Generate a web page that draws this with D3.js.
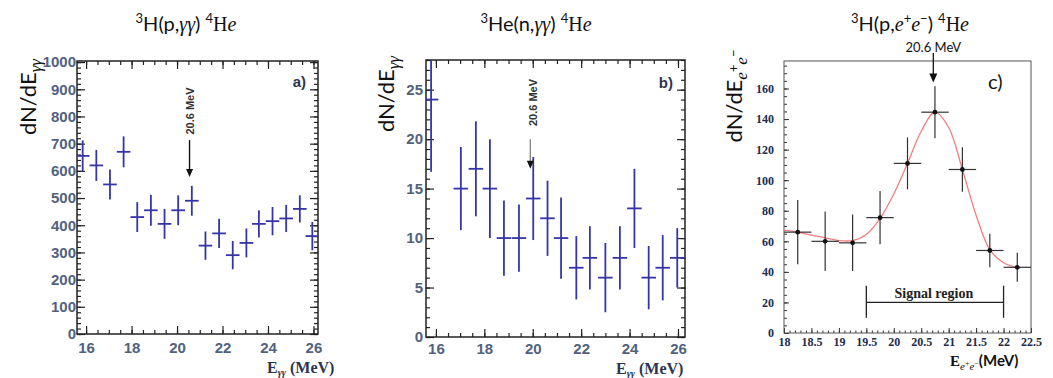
<!DOCTYPE html>
<html><head><meta charset="utf-8">
<script src="https://cdn.jsdelivr.net/npm/d3@7"></script>
<style>body{margin:0;background:#fff}svg{display:block}</style>
</head><body><svg id="chart" width="1053" height="378"></svg>
<script>
// ---- Panel a: 3H(p,γγ)4He ----
const aE   = [15.85,16.45,17.05,17.65,18.25,18.85,19.45,20.05,20.65,21.25,21.85,22.45,23.05,23.6,24.2,24.8,25.4,25.95];
const aN   = [655,620,550,670,430,455,405,455,490,325,370,290,335,405,415,425,460,360];
const aErr = [57,57,55,57,55,57,55,55,55,52,54,52,53,50,52,50,50,52];
const aXTicks = [16,18,20,22,24,26];
const aYTicks = [0,100,200,300,400,500,600,700,800,900,1000];
// ---- Panel b: 3He(n,γγ)4He ----
const bE   = [15.8,17.03,17.65,18.23,18.81,19.43,20.02,20.61,21.17,21.8,22.36,23.0,23.6,24.2,24.79,25.37,25.97];
const bN   = [24,15,17,15,10,10,14,12,10,7,8,6,8,13,6,7,8];
const bErr = [7.3,4.2,4.8,5,3.8,3.4,4.2,3.8,4.1,3.2,3.2,3.5,3.2,4,3.2,3.3,3];
const bXTicks = [16,18,20,22,24,26];
const bYTicks = [0,5,10,15,20,25];
// ---- Panel c: 3H(p,e+e-)4He ----
const cE   = [18.25,18.75,19.25,19.75,20.25,20.75,21.25,21.75,22.25];
const cN   = [66,60,59,75.5,111,144.5,107,54,43];
const cErr = [21,19.5,18.5,17.5,17,17,14.5,11,9.5];
const fitE = [18.0,18.25,18.5,18.75,19.0,19.25,19.5,19.75,20.0,20.25,20.5,20.75,21.0,21.25,21.5,21.75,22.0,22.3];
const fitN = [67.3,66,64,62.3,60.5,60.5,64.5,75,91,111,132,144.5,134.5,107,77,54.5,46,42.5];
const cXTicks = [18,18.5,19,19.5,20,20.5,21,21.5,22,22.5];
const cYTicks = [0,20,40,60,80,100,120,140,160];

const svg = d3.select('#chart');
svg.append('rect').attr('width',1053).attr('height',378).attr('fill','#fff');
const defs = svg.append('defs');

function panel(o){
  const x = d3.scaleLinear().domain(o.xd).range([o.l,o.r]);
  const y = d3.scaleLinear().domain(o.yd).range([o.b,o.t]);
  defs.append('clipPath').attr('id','clip'+o.id).append('rect')
    .attr('x',o.l).attr('y',o.t).attr('width',o.r-o.l).attr('height',o.b-o.t);
  return {x,y,clip:'url(#clip'+o.id+')'};
}
function styleAxis(g, col, w){
  g.select('.domain').remove();
  g.selectAll('line').attr('stroke',col).attr('stroke-width',w);
}
function title(cx, parts){
  const tt = svg.append('text').attr('x',cx).attr('y',31).attr('text-anchor','middle')
    .attr('font-family','Lato, sans-serif').attr('font-size',20).attr('fill','#111');
  let up = false;
  parts.forEach(([txt,kind])=>{
    const s = tt.append('tspan').text(txt);
    if(kind==='sup'){ s.attr('dy', up ? 0 : -8).attr('font-size',13); up = true; }
    else { s.attr('dy', up ? 8 : 0); up = false; }
    if(kind==='serif' || kind==='ital') s.attr('font-family','Liberation Serif, serif');
    if(kind==='ital') s.attr('font-style','italic');
  });
  return tt;
}

function framePanel(o, xT, yT, xMinorStep, yMinorStep, yFmt, padX, padY){
  const p = panel(o); const {x,y} = p;
  const tc = '#222', tw = 1.2, lab = '#51627d';
  const xMinor = d3.range(16,26.01,xMinorStep), yMinor = d3.range(0,o.yd[1]+0.01,yMinorStep);
  const mk = (axis, vals, size, pad, labels, tr) => {
    const a = axis.tickValues(vals).tickSizeInner(-size).tickSizeOuter(0).tickPadding(pad)
      .tickFormat(labels ? yFmt : '');
    const g = svg.append('g').attr('transform',tr).call(a);
    styleAxis(g, tc, tw);
    if(labels) g.selectAll('text').attr('font-family','Liberation Sans, Arial, sans-serif')
      .attr('font-weight','bold').attr('font-size',15).attr('fill',lab);
    return g;
  };
  mk(d3.axisBottom(x), xT, 8, padX, true, `translate(0,${o.b})`);
  mk(d3.axisBottom(x), xMinor, 4, 0, false, `translate(0,${o.b})`);
  mk(d3.axisTop(x), xT, 8, 0, false, `translate(0,${o.t})`);
  mk(d3.axisTop(x), xMinor, 4, 0, false, `translate(0,${o.t})`);
  mk(d3.axisLeft(y), yT, 8, padY, true, `translate(${o.l},0)`);
  mk(d3.axisLeft(y), yMinor, 4, 0, false, `translate(${o.l},0)`);
  mk(d3.axisRight(y), yT, 8, 0, false, `translate(${o.r},0)`);
  mk(d3.axisRight(y), yMinor, 4, 0, false, `translate(${o.r},0)`);
  svg.append('rect').attr('x',o.l).attr('y',o.t).attr('width',o.r-o.l).attr('height',o.b-o.t)
    .attr('fill','none').attr('stroke','#222').attr('stroke-width',1.5);
  return p;
}
function errBars(p, E, N, Err, hw){
  const {x,y} = p;
  const g = svg.append('g').attr('clip-path',p.clip).attr('stroke','#3535a8').attr('stroke-width',1.8);
  E.forEach((e,i)=>{
    g.append('line').attr('x1',x(e)).attr('x2',x(e)).attr('y1',y(N[i]-Err[i])).attr('y2',y(N[i]+Err[i]));
    g.append('line').attr('x1',x(e-hw)).attr('x2',x(e+hw)).attr('y1',y(N[i])).attr('y2',y(N[i]));
  });
}
function gammaXTitle(xp, yp){
  const xt = svg.append('text').attr('x',xp).attr('y',yp).attr('font-family','Liberation Serif, Times New Roman, serif')
    .attr('font-weight','bold').attr('font-size',16).attr('fill','#2d3550');
  xt.append('tspan').text('E');
  xt.append('tspan').attr('dy',3).attr('font-size',10).attr('font-style','italic').text('γγ');
  xt.append('tspan').attr('dy',-3).text(' (MeV)');
}
function gammaYTitle(xp, yp){
  const yt = svg.append('text').attr('transform',`translate(${xp},${yp}) rotate(-90)`).attr('text-anchor','middle')
    .attr('font-family','Lato, sans-serif').attr('font-size',22).attr('fill','#111');
  yt.append('tspan').text('dN/dE');
  yt.append('tspan').attr('dy',5).attr('font-size',17).attr('font-style','italic')
    .attr('font-family','Liberation Serif, serif').text('γγ');
}
function vertArrow(xp, y1, y2, shaft){
  svg.append('line').attr('x1',xp).attr('x2',xp).attr('y1',y1).attr('y2',y2-6).attr('stroke',shaft).attr('stroke-width',1.4);
  svg.append('path').attr('d',`M${xp-3.5},${y2-8}L${xp+3.5},${y2-8}L${xp},${y2}Z`).attr('fill','#111');
}
function rotLabel(xp, yp){
  svg.append('text').attr('transform',`translate(${xp},${yp}) rotate(-90)`)
    .attr('text-anchor','middle').attr('font-family','Liberation Sans, Arial, sans-serif')
    .attr('font-weight','bold').attr('font-size',11).attr('fill','#333').text('20.6 MeV');
}
function panelTag(xp, yp, t){
  svg.append('text').attr('x',xp).attr('y',yp).attr('text-anchor','end')
    .attr('font-family','Liberation Sans, Arial, sans-serif').attr('font-weight','bold')
    .attr('font-size',15).attr('fill','#2d3550').text(t);
}

// ================= PANEL A =================
(function(){
  const o = {id:'a', l:77, r:318, t:61, b:334, xd:[15.6,26.2], yd:[0,1004]};
  const p = framePanel(o, aXTicks, aYTicks, 0.5, 20, d3.format('d'), 8, 1);
  errBars(p, aE, aN, aErr, 0.3);
  const ax = p.x(20.55);
  vertArrow(ax, p.y(713), p.y(577), '#111');
  rotLabel(ax+4, p.y(820));
  panelTag(306, 87, 'a)');
  gammaXTitle(267, 373);
  gammaYTitle(36, 97);
  title(186, [['3','sup'],['H(p,',''],['γγ','ital'],[') ',''],['4','sup'],['H','serif'],['e','ital']]);
})();

// ================= PANEL B =================
(function(){
  const o = {id:'b', l:426, r:685, t:60, b:337, xd:[15.59,26.29], yd:[0,28]};
  const p = framePanel(o, bXTicks, bYTicks, 0.5, 1, d3.format('d'), 6, 3);
  errBars(p, bE, bN, bErr, 0.3);
  const ax = p.x(19.9);
  vertArrow(ax, p.y(20.0), p.y(17.0), '#888');
  rotLabel(ax+7, p.y(23.7));
  panelTag(673, 88, 'b)');
  gammaXTitle(616, 374);
  gammaYTitle(394, 94);
  title(536, [['3','sup'],['He(n,',''],['γγ','ital'],[') ',''],['4','sup'],['H','serif'],['e','ital']]);
})();

// ================= PANEL C =================
(function(){
  const o = {id:'c', l:784, r:1031, t:61, b:333, xd:[18,22.5], yd:[0,178]};
  const p = panel(o); const {x,y} = p;
  const tc = '#333', tw = 1, lab = '#1c2b4a';
  const xMinor = d3.range(18,22.501,0.1), yMinor = d3.range(0,176,5);
  const mk = (axis, vals, size, pad, labels, tr, fmt) => {
    const a = axis.tickValues(vals).tickSizeInner(-size).tickSizeOuter(0).tickPadding(pad).tickFormat(labels ? fmt : '');
    const g = svg.append('g').attr('transform',tr).call(a);
    styleAxis(g, tc, tw);
    if(labels) g.selectAll('text').attr('font-family','Liberation Serif, Times New Roman, serif')
      .attr('font-weight','bold').attr('font-size',12).attr('fill',lab);
  };
  mk(d3.axisBottom(x), cXTicks, 5, 4, true, `translate(0,${o.b})`, d3.format('~g'));
  mk(d3.axisBottom(x), xMinor, 2.5, 0, false, `translate(0,${o.b})`);
  mk(d3.axisLeft(y), cYTicks, 5, 10, true, `translate(${o.l},0)`, d3.format('d'));
  mk(d3.axisLeft(y), yMinor, 3, 0, false, `translate(${o.l},0)`);
  svg.append('rect').attr('x',o.l).attr('y',o.t).attr('width',o.r-o.l).attr('height',o.b-o.t)
    .attr('fill','none').attr('stroke','#555').attr('stroke-width',1);

  const g = svg.append('g').attr('clip-path',p.clip);
  const line = d3.line().x((d,i)=>x(fitE[i])).y((d,i)=>y(fitN[i])).curve(d3.curveCatmullRom.alpha(0.5));
  g.append('path').attr('d',line(fitE)).attr('fill','none').attr('stroke','#ee7f7f').attr('stroke-width',1.3);
  const eg = g.append('g').attr('stroke','#333').attr('stroke-width',1.2);
  cE.forEach((e,i)=>{
    eg.append('line').attr('x1',x(e)).attr('x2',x(e)).attr('y1',y(cN[i]-cErr[i])).attr('y2',y(cN[i]+cErr[i]));
    eg.append('line').attr('x1',x(e-0.25)).attr('x2',x(e+0.25)).attr('y1',y(cN[i])).attr('y2',y(cN[i]));
  });
  g.selectAll('circle.pt').data(cE).enter().append('circle').attr('cx',d=>x(d)).attr('cy',(d,i)=>y(cN[i]))
    .attr('r',2.4).attr('fill','#111');
  const sg = svg.append('g').attr('stroke','#222').attr('stroke-width',1.3);
  sg.append('line').attr('x1',x(19.5)).attr('x2',x(22)).attr('y1',y(20)).attr('y2',y(20));
  sg.append('line').attr('x1',x(19.5)).attr('x2',x(19.5)).attr('y1',y(10)).attr('y2',y(31));
  sg.append('line').attr('x1',x(22)).attr('x2',x(22)).attr('y1',y(10)).attr('y2',y(31));
  svg.append('text').attr('x',x(20.73)).attr('y',y(20)-4).attr('text-anchor','middle')
    .attr('font-family','Liberation Serif, Times New Roman, serif').attr('font-weight','bold')
    .attr('font-size',14).attr('fill','#222').text('Signal region');
  const ax = x(20.72), y2 = y(164);
  svg.append('line').attr('x1',ax).attr('x2',ax).attr('y1',53).attr('y2',y2-6).attr('stroke','#111').attr('stroke-width',1.3);
  svg.append('path').attr('d',`M${ax-4},${y2-9}L${ax+4},${y2-9}L${ax},${y2}Z`).attr('fill','#111');
  svg.append('text').attr('x',ax).attr('y',52).attr('text-anchor','middle')
    .attr('font-family','Lato, sans-serif').attr('font-size',13).attr('fill','#111').text('20.6 MeV');
  svg.append('text').attr('x',988).attr('y',89)
    .attr('font-family','Lato, sans-serif').attr('font-size',20).attr('fill','#111').text('c)');
  const xt = svg.append('text').attr('x',950).attr('y',366).attr('fill','#111').attr('font-size',15);
  xt.append('tspan').attr('font-family','Liberation Serif, serif').attr('font-weight','bold').text('E');
  xt.append('tspan').attr('dy',4).attr('font-size',11).attr('font-style','italic').attr('font-family','Liberation Serif, serif').text('e');
  xt.append('tspan').attr('dy',-4).attr('font-size',8).text('+');
  xt.append('tspan').attr('dy',4).attr('font-size',11).attr('font-style','italic').attr('font-family','Liberation Serif, serif').text('e');
  xt.append('tspan').attr('dy',-4).attr('font-size',8).text('−');
  xt.append('tspan').attr('dy',0).attr('font-family','Lato, sans-serif').attr('font-weight','bold').text('(MeV)');
  const yt = svg.append('text').attr('transform','translate(742,96) rotate(-90)').attr('text-anchor','middle')
    .attr('font-family','Lato, sans-serif').attr('font-size',22).attr('fill','#111');
  yt.append('tspan').text('dN/dE');
  yt.append('tspan').attr('dy',5).attr('font-size',17).attr('font-style','italic').attr('font-family','Liberation Serif, serif').text('e');
  yt.append('tspan').attr('dy',-9).attr('font-size',13).text('+');
  yt.append('tspan').attr('dy',9).attr('font-size',17).attr('font-style','italic').attr('font-family','Liberation Serif, serif').text('e');
  yt.append('tspan').attr('dy',-9).attr('font-size',13).text('−');
  title(910, [['3','sup'],['H(p,',''],['e','ital'],['+','sup'],['e','ital'],['−','sup'],[') ',''],['4','sup'],['H','serif'],['e','ital']]);
})();
</script></body></html>
